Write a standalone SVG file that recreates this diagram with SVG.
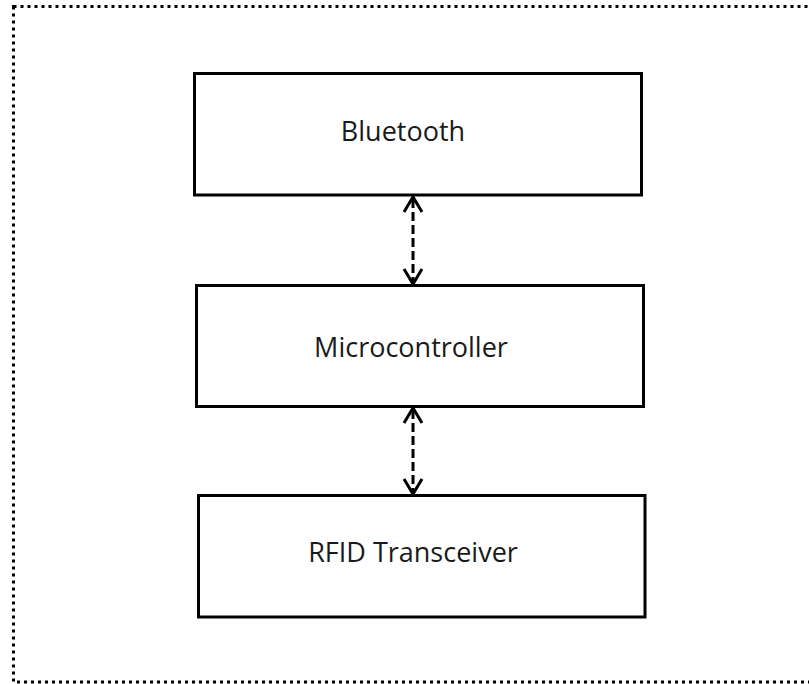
<svg xmlns="http://www.w3.org/2000/svg" width="809" height="684" viewBox="0 0 809 684">
<style>
.box{fill:#fff;stroke:#000;stroke-width:3}
.lbl{font-family:"Open Sans","Noto Sans","Liberation Sans",sans-serif;font-size:27px;fill:#1a1a1a;text-anchor:middle}
.conn{fill:none;stroke:#000;stroke-width:3;stroke-dasharray:9 4}
.head{fill:none;stroke:#000;stroke-width:3;stroke-linejoin:miter}
</style>
<rect width="809" height="684" fill="#fff"/>
<rect id="frame" x="13.5" y="6.5" width="810" height="675.5" fill="none" stroke="#000" stroke-width="3" stroke-dasharray="3 4"/>
<g id="bluetooth"><rect class="box" x="194.5" y="73.5" width="447" height="121.5"/><text class="lbl" x="403" y="141">Bluetooth</text></g>
<g id="microcontroller"><rect class="box" x="196.5" y="285.5" width="447" height="121"/><text class="lbl" x="411" y="357">Microcontroller</text></g>
<g id="rfid"><rect class="box" x="198.5" y="495.5" width="446.5" height="121.5"/><text class="lbl" x="413" y="562">RFID Transceiver</text></g>
<g id="connectors">
<line class="conn" x1="413" y1="199" x2="413" y2="282"/>
<polyline class="head" points="404,212 413,197 422,212"/>
<polyline class="head" points="404,269 413,284 422,269"/>
<line class="conn" x1="413" y1="410" x2="413" y2="492"/>
<polyline class="head" points="404,423 413,408 422,423"/>
<polyline class="head" points="404,479 413,494 422,479"/>
</g>
</svg>
